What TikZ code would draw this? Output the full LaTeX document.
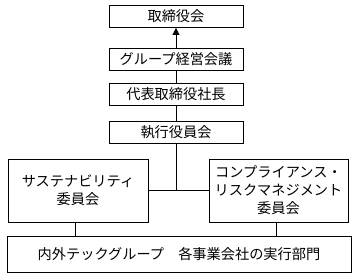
\documentclass[tikz,border=0pt]{standalone}
\usepackage{fontspec}
\setmainfont{Noto Sans CJK JP}
\usetikzlibrary{arrows.meta}
\begin{document}
\begin{tikzpicture}[x=1pt,y=-1pt,
  box/.style={draw,line width=0.9pt,inner sep=0pt,align=center,font=\fontsize{14.2}{18}\selectfont},
  conn/.style={line width=0.9pt}]
\useasboundingbox (0,0) rectangle (357,278);
\node[box,minimum width=134pt,minimum height=22pt] (t) at (176,16.5) {取締役会};
\node[box,minimum width=134pt,minimum height=22pt] (g) at (176,59) {グループ経営会議};
\node[box,minimum width=134pt,minimum height=22pt] (d) at (176,94) {代表取締役社長};
\node[box,minimum width=134pt,minimum height=22pt] (e) at (176,132.5) {執行役員会};
\node[box,minimum width=140pt,minimum height=63pt] (l) at (78,190.5) {サステナビリティ\\委員会};
\node[box,minimum width=139pt,minimum height=63pt] (r) at (278.5,190.5) {コンプライアンス・\\リスクマネジメント\\委員会};
\node[box,minimum width=344pt,minimum height=36pt] (b) at (179,254) {内外テックグループ　各事業会社の実行部門};
\draw[conn,-{Triangle[length=7pt,width=7pt]}] (g.north) -- (t.south);
\draw[conn] (g.south) -- (d.north);
\draw[conn] (d.south) -- (e.north);
\draw[conn] (l.east) -- (r.west);
\coordinate (j) at (e.south |- l.east);
\draw[conn] (e.south) -- (j);
\draw[conn] ([xshift=-3pt]l.south) -- ([xshift=-3pt]l.south |- b.north);
\draw[conn] ([xshift=-2.5pt]r.south) -- ([xshift=-2.5pt]r.south |- b.north);
\end{tikzpicture}
\end{document}
